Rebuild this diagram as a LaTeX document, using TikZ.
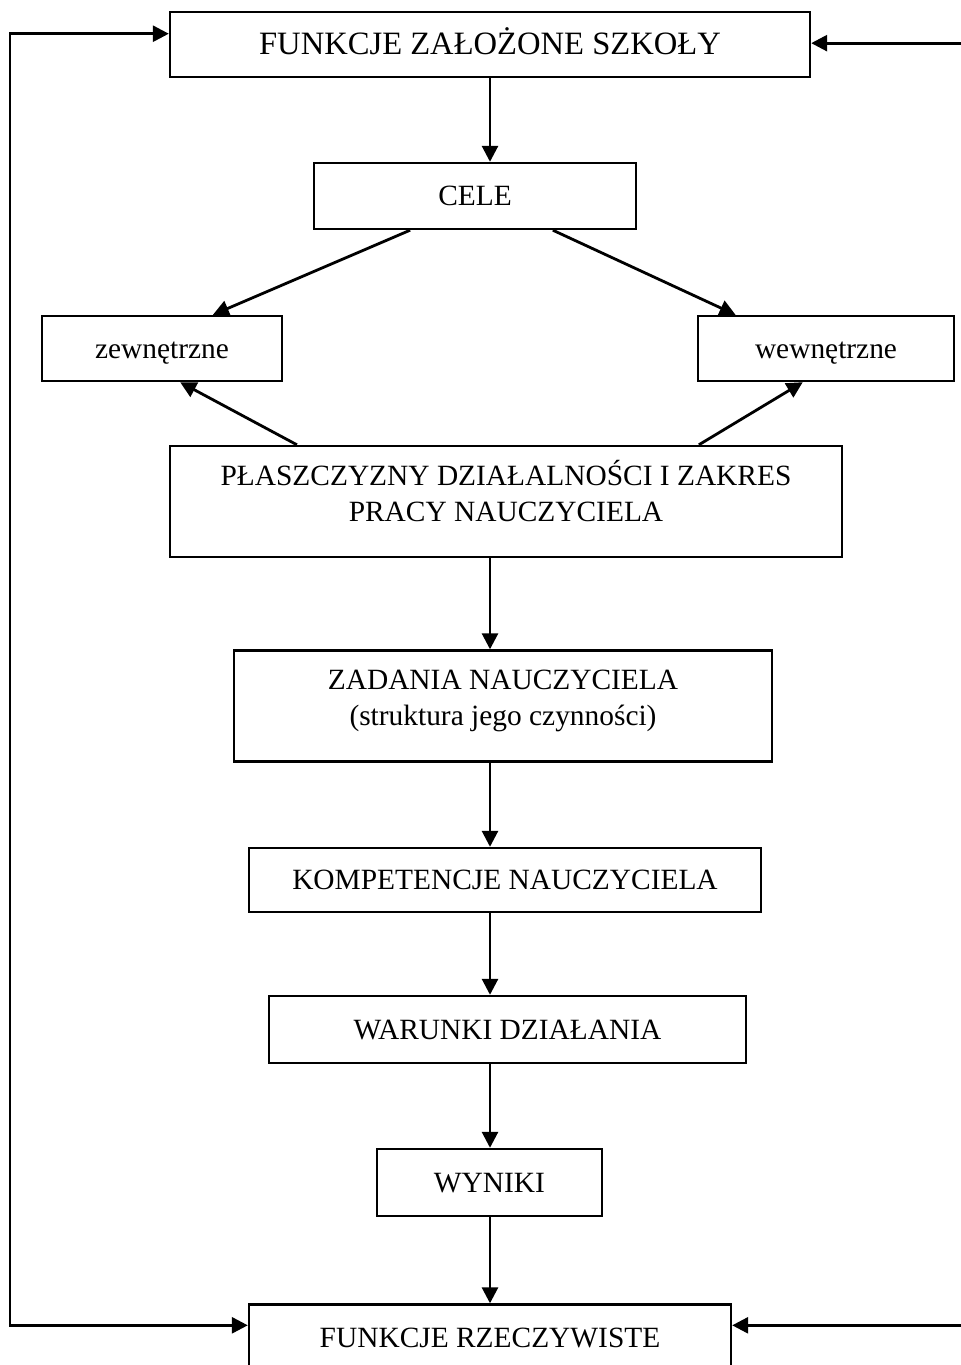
\documentclass[tikz,border=0pt]{standalone}
\usepackage{fontspec}
\setmainfont{Liberation Serif}
\usetikzlibrary{arrows.meta,calc}

\begin{document}
\begin{tikzpicture}[x=0.5pt, y=-0.5pt,
	ramka/.style={draw, line width=1.2pt, align=center, inner sep=0pt, font=\fontsize{14.7}{18}\selectfont},
	jedna/.style={ramka, text height=12pt, text depth=2.1pt},
	strzalka/.style={line width=1.4pt, -{Triangle[length=8pt, width=8pt]}},
	petla/.style={line width=1.4pt, {Triangle[length=8pt, width=8pt]}-{Triangle[length=8pt, width=8pt]}}]
	\useasboundingbox (0,0) rectangle (961,1365);
	
	%Bloki
	\node[jedna, minimum width=320pt, minimum height=32.5pt, font=\fontsize{16.3}{18}\selectfont] (fz) at (490, 44.5) {FUNKCJE ZAŁOŻONE SZKOŁY};
	\node[jedna, minimum width=161pt, minimum height=33pt] (cele) at (475, 196) {CELE};
	\node[jedna, minimum width=120pt, minimum height=32.5pt] (zew) at (162, 348.5) {zewnętrzne};
	\node[jedna, minimum width=128pt, minimum height=32.5pt] (wew) at (826, 348.5) {wewnętrzne};
	\node[ramka, minimum width=336pt, minimum height=54.5pt] (plasz) at (506, 501.5) {\rule{0pt}{19.5pt}PŁASZCZYZNY DZIAŁALNOŚCI I ZAKRES\\PRACY NAUCZYCIELA\\\mbox{}};
	\node[ramka, minimum width=269pt, minimum height=54pt] (zad) at (503, 706) {\rule{0pt}{19.5pt}ZADANIA NAUCZYCIELA\\(struktura jego czynności)\\\mbox{}};
	\node[jedna, minimum width=256pt, minimum height=32pt] (komp) at (505, 880) {KOMPETENCJE NAUCZYCIELA};
	\node[jedna, minimum width=238.5pt, minimum height=33.5pt] (war) at (507.5, 1029.5) {WARUNKI DZIAŁANIA};
	\node[jedna, minimum width=112.5pt, minimum height=33.5pt] (wyn) at (489.5, 1182.5) {WYNIKI};
	\node[jedna, minimum width=241pt, minimum height=33.5pt] (fr) at (490, 1338) {FUNKCJE RZECZYWISTE};
	
	%Strzalki w dol
	\draw[strzalka] (fz.south) -- (fz.south |- cele.north);
	\draw[strzalka] ($(cele.south west)!0.3!(cele.south east)$) -- ($(zew.north west)!0.71!(zew.north east)$);
	\draw[strzalka] ($(cele.south west)!0.74!(cele.south east)$) -- ($(wew.north west)!0.15!(wew.north east)$);
	\draw[strzalka] ($(plasz.north west)!0.19!(plasz.north east)$) -- ($(zew.south west)!0.575!(zew.south east)$);
	\draw[strzalka] ($(plasz.north west)!0.786!(plasz.north east)$) -- ($(wew.south west)!0.41!(wew.south east)$);
	\draw[strzalka] (plasz.south -| fz) -- (zad.north -| fz);
	\draw[strzalka] (zad.south -| fz) -- (komp.north -| fz);
	\draw[strzalka] (komp.south -| fz) -- (war.north -| fz);
	\draw[strzalka] (war.south -| fz) -- (wyn.north -| fz);
	\draw[strzalka] (wyn.south -| fz) -- (fr.north -| fz);
	
	%Sprzezenie zwrotne
	\coordinate (lewy) at (10, 0);
	\coordinate (prawy) at (965, 0);
	\coordinate (fzL) at ($(fz.north west)!0.34!(fz.south west)$);
	\coordinate (fzP) at ($(fz.north east)!0.48!(fz.south east)$);
	\coordinate (frL) at ($(fr.north west)+(0, 22)$);
	\coordinate (frP) at ($(fr.north east)+(0, 22)$);
	\draw[petla] (fzL) -- (fzL -| lewy) -- (frL -| lewy) -- (frL);
	\draw[strzalka] (fzP -| prawy) -- (fzP);
	\draw[strzalka] (frP -| prawy) -- (frP);
\end{tikzpicture}
\end{document}
